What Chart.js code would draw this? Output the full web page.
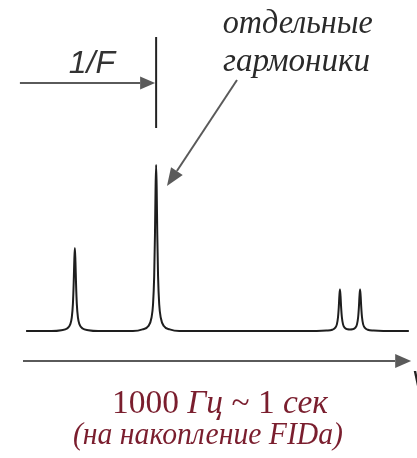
<!DOCTYPE html>
<html>
<head>
<meta charset="utf-8">
<script src="https://cdn.jsdelivr.net/npm/chart.js@4/dist/chart.umd.min.js"></script>
<style>
  html, body { margin: 0; padding: 0; background: #fff; }
  canvas { display: block; }
</style>
</head>
<body>
<canvas id="c" width="417" height="458"></canvas>
<script>
// Spectrum: frequency (Гц) and relative intensity of the harmonics
const freq = [
  8,
  74, 99, 114, 122, 126, 129, 131, 132.5, 134, 135.5, 137, 139, 142, 146, 154, 169, 194,
  284, 309, 324, 332, 336, 339, 341, 342.5, 344, 345.5, 347, 349, 352, 356, 364, 379, 404,
  759, 784, 799, 807, 811, 814, 816, 817.5, 819, 820.5, 822, 824, 827, 831, 839, 845,
  851, 859, 863, 866, 868, 869.5, 871, 872.5, 874, 876, 879, 883, 891, 906, 931,
  997
];
const intensity = [
  0,
  0, 0.005, 0.015, 0.04, 0.08, 0.165, 0.29, 0.42, 0.5, 0.42, 0.29, 0.165, 0.08, 0.04, 0.015, 0.005, 0,
  0, 0.01, 0.03, 0.08, 0.16, 0.33, 0.58, 0.85, 1, 0.85, 0.58, 0.33, 0.16, 0.08, 0.03, 0.01, 0,
  0, 0.0025, 0.0075, 0.02, 0.04, 0.083, 0.145, 0.21, 0.25, 0.21, 0.145, 0.083, 0.04, 0.02, 0.01, 0.009,
  0.01, 0.02, 0.04, 0.083, 0.145, 0.21, 0.25, 0.21, 0.145, 0.083, 0.04, 0.02, 0.0075, 0.0025, 0,
  0
];

// Harmonic spacing marker (1/F) sits on the main harmonic
const markerFreq = 344;
const axisRange = [0, 1003];

const captionTop = ['отдельные', 'гармоники'];
const periodLabel = '1/F';
const axisLabel = 'V';
const captionLine1 = [['1000 ', false], ['Гц', true], [' ~ 1 ', false], ['сек', true]];
const captionLine2 = '(на накопление FIDa)';

const points = freq.map((f, i) => ({ x: f, y: intensity[i] }));

const SERIF = '"Liberation Serif", "Times New Roman", serif';

function arrow(ctx, x1, y1, x2, y2, len, half, color, width) {
  const a = Math.atan2(y2 - y1, x2 - x1);
  const bx = x2 - len * Math.cos(a), by = y2 - len * Math.sin(a);
  ctx.save();
  ctx.strokeStyle = color; ctx.fillStyle = color; ctx.lineWidth = width;
  ctx.beginPath(); ctx.moveTo(x1, y1); ctx.lineTo(bx, by); ctx.stroke();
  ctx.beginPath();
  ctx.moveTo(x2, y2);
  ctx.lineTo(bx + half * Math.sin(a), by - half * Math.cos(a));
  ctx.lineTo(bx - half * Math.sin(a), by + half * Math.cos(a));
  ctx.closePath(); ctx.fill();
  ctx.restore();
}

// draw text centred at cx, fitted to a given width
function fitText(ctx, text, cx, by, width) {
  const w = ctx.measureText(text).width;
  ctx.save();
  ctx.translate(cx, by);
  ctx.scale(width / w, 1);
  ctx.textAlign = 'center';
  ctx.fillText(text, 0, 0);
  ctx.restore();
}

const annotations = {
  id: 'annotations',
  afterDatasetsDraw(chart) {
    const { ctx, scales: { x, y } } = chart;
    const px = v => x.getPixelForValue(v);
    const py = v => y.getPixelForValue(v);

    // frequency axis arrow
    arrow(ctx, px(axisRange[0]), py(-0.18), px(axisRange[1]), py(-0.18), 16, 7, '#5a5a5a', 2);
    ctx.save();
    ctx.fillStyle = '#222';
    ctx.font = 'italic 26px "Liberation Sans"';
    ctx.textAlign = 'left';
    ctx.fillText(axisLabel, px(1004), py(-0.35));
    ctx.restore();

    // 1/F period marker
    ctx.save();
    ctx.strokeStyle = '#222'; ctx.lineWidth = 2;
    ctx.beginPath(); ctx.moveTo(px(markerFreq), py(1.771)); ctx.lineTo(px(markerFreq), py(1.223)); ctx.stroke();
    ctx.restore();
    arrow(ctx, px(-8), py(1.494), px(markerFreq) - 1, py(1.494), 15, 6.5, '#5a5a5a', 2);
    ctx.save();
    ctx.fillStyle = '#333';
    ctx.font = 'italic 32px "Liberation Sans"';
    ctx.textAlign = 'center';
    ctx.fillText(periodLabel, px(178), py(1.554));
    ctx.restore();

    // caption pointing at the harmonics
    ctx.save();
    ctx.fillStyle = '#2a2a2a';
    ctx.font = 'italic 33px ' + SERIF;
    fitText(ctx, captionTop[0], px(710), py(1.795), 150);
    fitText(ctx, captionTop[1], px(707), py(1.566), 147);
    ctx.restore();
    arrow(ctx, px(553), py(1.512), px(372), py(0.873), 18, 7, '#5a5a5a', 2);

    // red caption below the axis
    ctx.save();
    ctx.fillStyle = '#7a1e2e';
    const f1 = it => (it ? 'italic ' : '') + '33px ' + SERIF;
    let w = 0;
    captionLine1.forEach(([t, it]) => { ctx.font = f1(it); w += ctx.measureText(t).width; });
    const k = 216 / w;
    ctx.translate(px(509) - 108, py(-0.494));
    ctx.scale(k, 1);
    let cx = 0;
    captionLine1.forEach(([t, it]) => {
      ctx.font = f1(it);
      ctx.textAlign = 'left';
      ctx.fillText(t, cx, 0);
      cx += ctx.measureText(t).width;
    });
    ctx.restore();
    ctx.save();
    ctx.fillStyle = '#7a1e2e';
    ctx.font = 'italic 32px ' + SERIF;
    fitText(ctx, captionLine2, px(478), py(-0.68), 270);
    ctx.restore();
  }
};

new Chart(document.getElementById('c'), {
  type: 'scatter',
  data: {
    datasets: [{
      data: points,
      showLine: true,
      borderColor: '#1e1e1e',
      borderWidth: 2,
      borderJoinStyle: 'round',
      cubicInterpolationMode: 'monotone',
      pointRadius: 0
    }]
  },
  options: {
    responsive: false,
    animation: false,
    layout: { padding: 0 },
    plugins: { legend: { display: false }, tooltip: { enabled: false } },
    scales: {
      x: { type: 'linear', min: -59.43, max: 1018.1, display: false },
      y: { type: 'linear', min: -0.765, max: 1.994, display: false }
    }
  },
  plugins: [annotations]
});
</script>
</body>
</html>
